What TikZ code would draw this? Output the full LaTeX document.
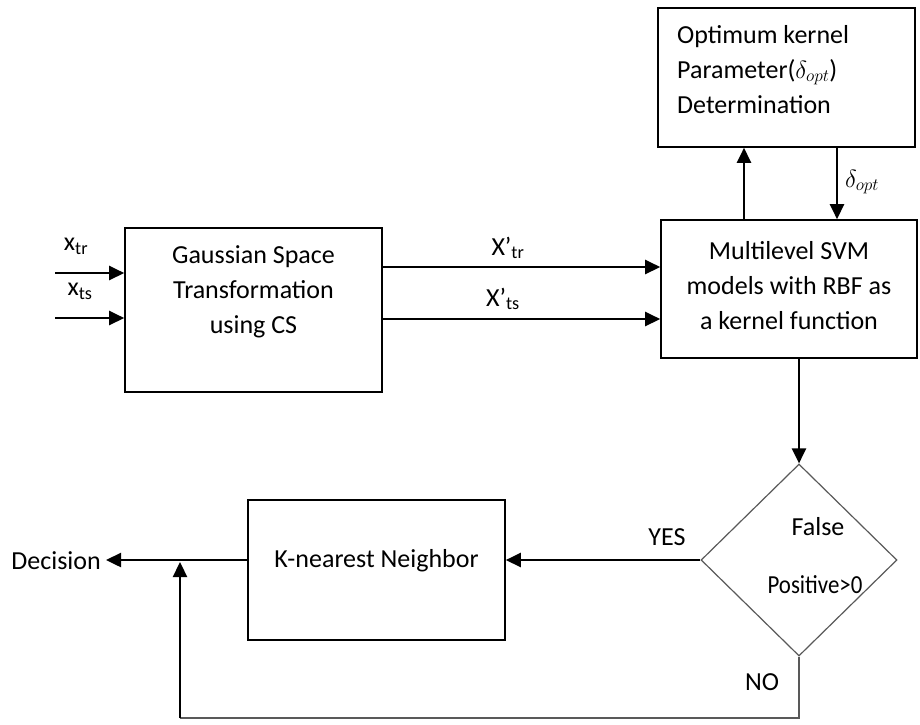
\documentclass[tikz,border=0pt]{standalone}
\usepackage{fontspec}
\setmainfont{Carlito}
\usetikzlibrary{shapes.geometric,arrows.meta}
\begin{document}
\begin{tikzpicture}[x=1pt,y=-1pt,
  every node/.style={font=\fontsize{26}{35}\selectfont},
  box/.style={draw,line width=1.6pt,minimum width=257pt,inner sep=0pt},
  arr/.style={line width=2.4pt,-{Triangle[length=15pt,width=14pt]}},
  lbl/.style={inner sep=0pt},
  thinl/.style={draw=black!65,line width=1.2pt}]
\useasboundingbox (0,0) rectangle (920,724);
% boxes
\node[box,minimum height=164pt] (gauss) at (253.5,310) {};
\node[lbl,align=center] (gausst) at (253.5,292) {Gaussian Space\\Transformation\\using CS};
\node[box,minimum height=139pt] (opt) at (786.5,77.5) {};
\node[lbl,align=left,anchor=north west] (optt) at (677,25) {Optimum kernel\\Parameter($\delta_{opt}$)\\Determination};
\node[box,minimum width=256pt,minimum height=138pt] (svm) at (789,289) {};
\node[lbl,align=center] (svmt) at (789,286) {Multilevel SVM\\models with RBF as\\a kernel function};
\node[box,minimum height=140pt] (knn) at (376.5,570) {};
\node[lbl] (knnt) at (376.5,561) {K-nearest Neighbor};
\node[diamond,draw=black!65,line width=1.2pt,minimum width=196pt,minimum height=192pt,inner sep=0pt] (dia) at (799,560) {};
\node[lbl] (fal) at (818,527) {False};
\node[lbl] (pos) at (815,585) {\scalebox{0.88}[1]{Positive>0}};
\node[lbl,anchor=east] (dec) at (101,561) {Decision};
% input labels
\node[lbl] (xtr) at (76,246) {x\textsubscript{tr}};
\node[lbl] (xts) at (80,291) {x\textsubscript{ts}};
\node[lbl] (Xtr) at (508,248) {X’\textsubscript{tr}};
\node[lbl] (Xts) at (503,299) {X’\textsubscript{ts}};
\node[lbl] (dopt) at (862,182) {$\delta_{opt}$};
\node[lbl] (yes) at (667,537) {YES};
\node[lbl] (no) at (762,682) {NO};
% coordinates
\coordinate (in1) at (55,273);
\coordinate (in2) at (55,318);
\coordinate (dcor) at (799,718);
\coordinate (lcor) at (180,718);
\coordinate (decend) at (106,560);
\coordinate (jn) at (180,562);
% arrows
\draw[arr] (in1) -- (in1 -| gauss.west);
\draw[arr] (in2) -- (in2 -| gauss.west);
\draw[arr] (gauss.east |- 0,267) -- (svm.west |- 0,267);
\draw[arr] (gauss.east |- 0,319) -- (svm.west |- 0,319);
\draw[arr] (svm.north -| 744,0) -- (opt.south -| 744,0);
\draw[arr] (opt.south -| 837,0) -- (svm.north -| 837,0);
\draw[arr] (svm.south -| dia.north) -- (dia.north);
\draw[arr] (dia.west) -- (knn.east |- dia.west);
\draw[arr] (knn.west |- dia.west) -- (decend);
\draw[thinl] (dia.south) -- (dcor) -- (lcor);
\draw[arr] (lcor) -- (jn);
\end{tikzpicture}
\end{document}
